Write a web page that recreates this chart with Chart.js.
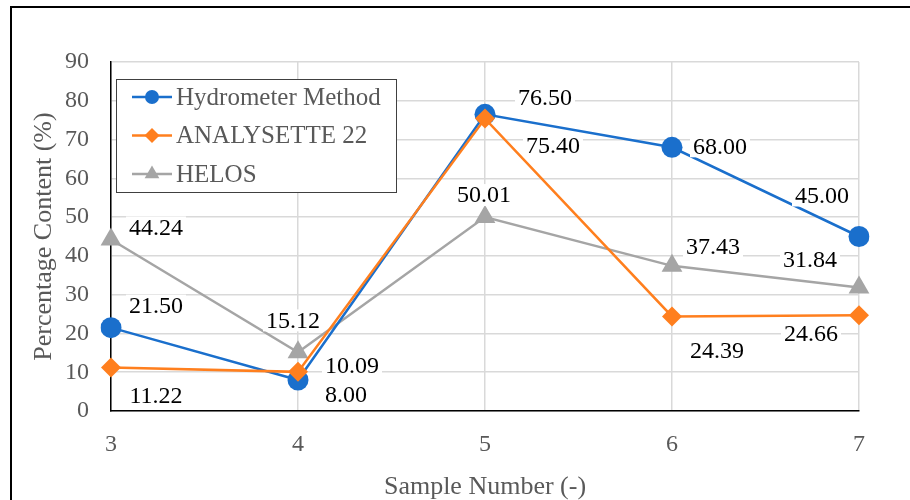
<!DOCTYPE html>
<html>
<head>
<meta charset="utf-8">
<title>Percentage Content by Sample</title>
<script src="https://cdn.jsdelivr.net/npm/chart.js@4.4.0/dist/chart.umd.min.js"></script>
<style>
  html, body { margin: 0; padding: 0; background: #fff; overflow: hidden; }
  #wrap { position: relative; width: 910px; height: 500px; overflow: hidden; }
  #frame { position: absolute; left: 10px; top: 6px; width: 920px; height: 520px;
           border-left: 2.5px solid #000; border-top: 2.5px solid #000; pointer-events: none; }
</style>
</head>
<body>
<div id="wrap">
  <canvas id="chart" width="910" height="500"></canvas>
  <div id="frame"></div>
</div>
<script>
// sample numbers on the x axis
const samples = ['3', '4', '5', '6', '7'];

// percentage content per method
const hydrometer = [21.50, 8.00, 76.50, 68.00, 45.00];
const analysette = [11.22, 10.09, 75.40, 24.39, 24.66];
const helos = [44.24, 15.12, 50.01, 37.43, 31.84];

// y axis range
const yMin = 0, yMax = 90, yStep = 10;

const FONT = '"Liberation Serif", "Times New Roman", serif';
const GREY_TEXT = '#595959';

// where each value label sits relative to its point (px)
const hydroLabelPos = [[45, -22], [48, 15], [60, -17], [48, -1], [-37, -41]];
const analyLabelPos = [[45, 28], [54, -6], [68, 27], [45, 34], [-48, 18]];
const helosLabelPos = [[45, -12], [-5, -32], [-1, -22], [41, -19], [-49, -28]];

function marker(ctx, style, x, y, r) {
  ctx.beginPath();
  if (style === 'circle') {
    ctx.arc(x, y, r, 0, Math.PI * 2);
  } else if (style === 'rectRot') {
    ctx.moveTo(x - r, y); ctx.lineTo(x, y - r); ctx.lineTo(x + r, y); ctx.lineTo(x, y + r);
  } else {
    const h = r * 1.5, hw = r * Math.sin(Math.PI / 3);
    ctx.moveTo(x, y - r); ctx.lineTo(x + hw, y + h - r); ctx.lineTo(x - hw, y + h - r);
  }
  ctx.closePath();
  ctx.fill();
}

const valueLabels = {
  id: 'valueLabels',
  afterDatasetsDraw(chart) {
    const ctx = chart.ctx;
    ctx.save();
    ctx.font = '24px ' + FONT;
    ctx.textAlign = 'center';
    ctx.textBaseline = 'middle';
    chart.data.datasets.forEach((ds, i) => {
      chart.getDatasetMeta(i).data.forEach((pt, j) => {
        const [dx, dy] = ds.labelPos[j];
        const text = ds.data[j].toFixed(2);
        const x = pt.x + dx, y = pt.y + dy;
        const w = ctx.measureText(text).width + 6;
        ctx.fillStyle = '#fff';
        ctx.fillRect(x - w / 2, y - 11, w, 22);
        ctx.fillStyle = '#000';
        ctx.fillText(text, x, y + 1);
      });
    });
    ctx.restore();
  }
};

const boxLegend = {
  id: 'boxLegend',
  afterDraw(chart) {
    const ctx = chart.ctx;
    const left = chart.chartArea.left + 5, top = chart.chartArea.top + 17;
    const w = 280, h = 113;
    ctx.save();
    ctx.fillStyle = '#fff';
    ctx.fillRect(left, top, w, h);
    ctx.strokeStyle = '#404040';
    ctx.lineWidth = 1;
    ctx.strokeRect(left + 0.5, top + 0.5, w, h);
    ctx.font = '25px ' + FONT;
    ctx.textBaseline = 'middle';
    chart.data.datasets.forEach((ds, i) => {
      const y = top + 18 + i * 38.5;
      ctx.strokeStyle = ds.borderColor;
      ctx.lineWidth = 2.5;
      ctx.beginPath();
      ctx.moveTo(left + 16, y);
      ctx.lineTo(left + 56, y);
      ctx.stroke();
      ctx.fillStyle = ds.borderColor;
      marker(ctx, ds.pointStyle, left + 36, y, ds.legendRadius);
      ctx.fillStyle = GREY_TEXT;
      ctx.fillText(ds.label, left + 60, y + 1);
    });
    ctx.restore();
  }
};

const series = (label, data, color, style, radius, legendRadius, labelPos, order) => ({
  label, data, order, labelPos, legendRadius,
  borderColor: color,
  backgroundColor: color,
  borderWidth: 2.5,
  pointStyle: style,
  pointRadius: radius,
  pointHoverRadius: radius,
  pointBorderWidth: 0,
  pointBackgroundColor: color,
  tension: 0
});

new Chart(document.getElementById('chart'), {
  type: 'line',
  data: {
    labels: samples,
    datasets: [
      series('Hydrometer Method', hydrometer, '#1a6fcc', 'circle', 10.5, 7, hydroLabelPos, 2),
      series('ANALYSETTE 22', analysette, '#ff7f1e', 'rectRot', 10, 7.5, analyLabelPos, 1),
      series('HELOS', helos, '#a5a5a5', 'triangle', 12, 8.5, helosLabelPos, 3)
    ]
  },
  options: {
    responsive: false,
    devicePixelRatio: 1,
    animation: false,
    layout: { padding: { top: 62, right: 51, left: 0, bottom: 0 } },
    plugins: { legend: { display: false }, tooltip: { enabled: false } },
    scales: {
      x: {
        afterFit: s => { s.height = 89; },
        grid: { color: '#d9d9d9', lineWidth: 1.5, drawTicks: false },
        border: { color: '#000', width: 1.5 },
        ticks: { color: GREY_TEXT, font: { family: FONT, size: 24 }, padding: 19 },
        title: {
          display: true, text: 'Sample Number (-)', color: GREY_TEXT,
          font: { family: FONT, size: 26, lineHeight: 1 }, padding: { top: 0, bottom: 0 }
        }
      },
      y: {
        min: yMin, max: yMax,
        afterFit: s => { s.width = 111; },
        grid: { color: '#d9d9d9', lineWidth: 1.5, drawTicks: false },
        border: { color: '#000', width: 1.5 },
        ticks: { stepSize: yStep, color: GREY_TEXT, font: { family: FONT, size: 24 }, padding: 22 },
        title: {
          display: true, text: 'Percentage Content (%)', color: GREY_TEXT,
          font: { family: FONT, size: 26, lineHeight: 1 }, padding: { top: 31, bottom: 0 }
        }
      }
    }
  },
  plugins: [valueLabels, boxLegend]
});
</script>
</body>
</html>
